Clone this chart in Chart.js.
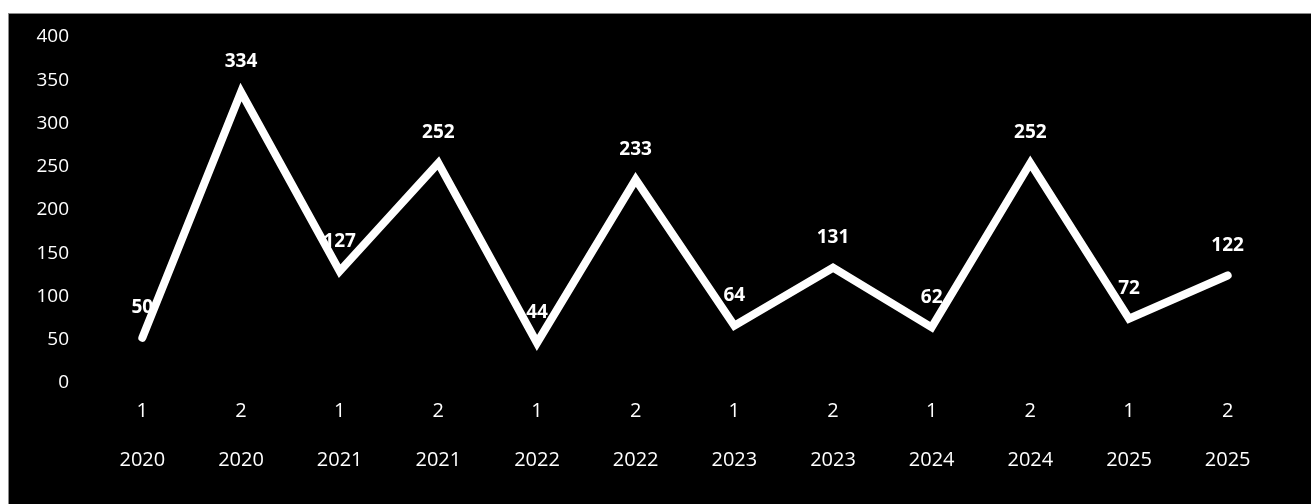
<!DOCTYPE html>
<html>
<head>
<meta charset="utf-8">
<script src="https://cdn.jsdelivr.net/npm/chart.js@4/dist/chart.umd.min.js"></script>
<style>
  html, body { margin: 0; padding: 0; background: #ffffff; width: 1311px; height: 504px; overflow: hidden; }
  #wrap { position: absolute; left: 8px; top: 13px; width: 1303px; height: 491px; background: #000; border-top: 1px solid #8a8a8a; border-left: 1px solid #8a8a8a; box-sizing: border-box; }
  canvas { display: block; }
</style>
</head>
<body>
<div id="wrap"><canvas id="c" width="1302" height="490"></canvas></div>
<script>
// Half-year periods and counts
const halves = ['1', '2', '1', '2', '1', '2', '1', '2', '1', '2', '1', '2'];
const years = ['2020', '2020', '2021', '2021', '2022', '2022', '2023', '2023', '2024', '2024', '2025', '2025'];
const counts = [50, 334, 127, 252, 44, 233, 64, 131, 62, 252, 72, 122];
const yTicks = [0, 50, 100, 150, 200, 250, 300, 350, 400];

const labels = halves.map((h, i) => [h, years[i]]);

// Value labels above each point
const valueLabels = {
  id: 'valueLabels',
  afterDatasetsDraw(chart) {
    const ctx = chart.ctx;
    const meta = chart.getDatasetMeta(0);
    ctx.save();
    ctx.fillStyle = '#ffffff';
    ctx.font = 'bold 19px "Open Sans"';
    ctx.textAlign = 'center';
    ctx.textBaseline = 'middle';
    meta.data.forEach((pt, i) => {
      ctx.fillText(String(counts[i]), pt.x, pt.y - 30);
    });
    ctx.restore();
  }
};

new Chart(document.getElementById('c'), {
  type: 'line',
  data: {
    labels: labels,
    datasets: [{
      data: counts,
      borderColor: '#ffffff',
      borderWidth: 8,
      borderCapStyle: 'round',
      borderJoinStyle: 'miter',
      pointRadius: 0,
      pointHoverRadius: 0,
      tension: 0,
      fill: false
    }]
  },
  options: {
    responsive: false,
    animation: false,
    devicePixelRatio: 1,
    layout: { autoPadding: false, padding: { top: 21, right: 34, left: 0, bottom: 0 } },
    plugins: { legend: { display: false }, tooltip: { enabled: false } },
    scales: {
      x: {
        offset: true,
        grid: { display: false, drawTicks: false, tickLength: 0 },
        border: { display: false },
        ticks: {
          color: '#ffffff',
          font: { family: '"Open Sans"', size: 20, lineHeight: 49 / 20 },
          padding: 6,
          maxRotation: 0,
          autoSkip: false
        },
        afterFit(scale) {
          scale.height = 123;
          scale.paddingLeft = 0;
          scale.paddingRight = 0;
        }
      },
      y: {
        min: 0,
        max: 400,
        afterBuildTicks(scale) { scale.ticks = yTicks.map(v => ({ value: v })); },
        grid: { display: false, drawTicks: false, tickLength: 0 },
        border: { display: false },
        ticks: {
          color: '#ffffff',
          font: { family: '"Open Sans"', size: 19 },
          padding: 24,
          labelOffset: 2
        },
        afterFit(scale) {
          scale.width = 84;
          scale.paddingTop = 0;
          scale.paddingBottom = 0;
        }
      }
    }
  },
  plugins: [valueLabels]
});
</script>
</body>
</html>
